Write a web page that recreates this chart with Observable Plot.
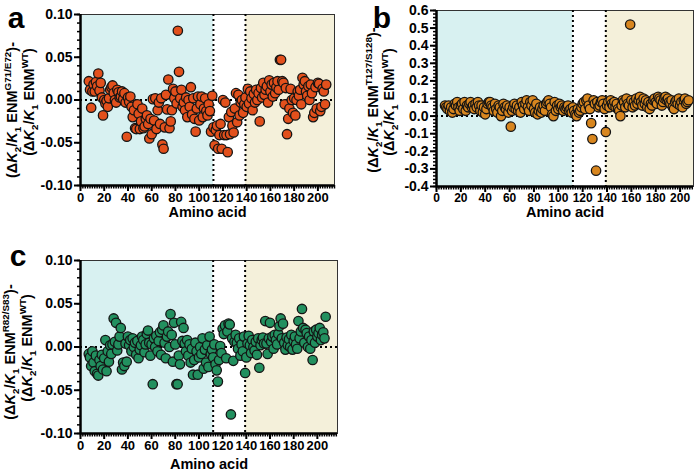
<!DOCTYPE html>
<html><head><meta charset="utf-8">
<script src="https://cdn.jsdelivr.net/npm/d3@7"></script>
<script src="https://cdn.jsdelivr.net/npm/@observablehq/plot@0.6"></script>
<style>
body{margin:0;background:#fff;}
#wrap{position:relative;width:700px;height:474px;overflow:hidden;background:#fff;}
#wrap > svg{position:absolute;overflow:visible;}
</style></head><body><div id="wrap"></div>
<script>
const FONT = "Liberation Sans, Arial, Helvetica, sans-serif";
const firstResidue = 7;

// Panel a: G71/E72 (residues 7..207)
const valuesA = [
  0.022, 0.012, -0.009, 0.010, 0.018, 0.010, 0.021, 0.016, 0.031, 0.011,
  0.020, 0.003, -0.018, 0.000, -0.004, -0.001, -0.008, 0.002, 0.012, 0.015,
  0.017, 0.008, 0.000, -0.003, 0.012, 0.009, 0.003, 0.004, 0.010, 0.001,
  0.008, -0.003, -0.043, 0.003, -0.002, 0.004, -0.008, -0.020, -0.012, -0.033,
  -0.034, -0.005, -0.016, -0.034, -0.025, -0.010, -0.033, -0.031, -0.022, -0.018,
  -0.028, -0.045, -0.022, -0.040, 0.001, -0.024, 0.002, -0.034, -0.012, -0.003,
  -0.028, 0.002, -0.052, -0.057, -0.032, 0.006, -0.011, 0.024, -0.033, -0.025,
  -0.012, 0.013, 0.002, 0.010, -0.004, 0.081, 0.033, 0.002, 0.012, -0.008,
  -0.003, -0.012, 0.003, -0.020, 0.000, -0.008, 0.015, -0.017, 0.002, -0.022,
  -0.037, -0.010, 0.004, -0.024, -0.005, 0.004, -0.020, -0.010, 0.002, -0.013,
  -0.018, -0.005, -0.013, -0.037, 0.005, -0.032, -0.053, -0.035, -0.030, -0.057,
  -0.041, -0.028, -0.057, 0.000, -0.041, -0.003, -0.041, -0.061, -0.020, -0.040,
  -0.014, -0.030, -0.038, -0.010, 0.008, -0.026, 0.006, -0.018, -0.003, 0.000,
  -0.015, -0.005, 0.003, -0.008, 0.013, -0.004, 0.010, 0.002, -0.012, 0.007,
  -0.003, 0.012, 0.000, 0.008, -0.025, 0.014, 0.003, 0.020, 0.006, 0.012,
  0.016, -0.003, 0.023, 0.010, 0.018, 0.004, 0.020, 0.008, 0.015, 0.022,
  0.012, 0.047, 0.047, 0.022, 0.020, -0.005, 0.014, -0.040, -0.022, -0.010,
  0.013, 0.000, -0.015, 0.002, -0.018, 0.000, 0.010, 0.005, 0.012, -0.005,
  0.026, 0.018, 0.022, 0.010, 0.005, 0.016, 0.000, 0.018, 0.008, -0.020,
  -0.015, 0.015, -0.010, 0.020, 0.019, -0.013, -0.008, 0.013, 0.010, -0.005,
  0.018
];

// Panel b: T127/S128
const valuesB = [
  0.06, 0.05, 0.04, 0.06, 0.03, 0.05, 0.02, 0.04, 0.07, 0.06,
  0.08, 0.05, 0.03, 0.06, 0.07, 0.04, 0.08, 0.03, 0.06, 0.05,
  0.07, 0.08, 0.05, 0.06, 0.04, 0.07, 0.05, 0.08, 0.06, 0.03,
  0.06, 0.02, 0.05, 0.01, 0.04, 0.07, 0.08, 0.08, 0.06, 0.05,
  0.03, 0.07, 0.04, 0.02, 0.06, 0.05, 0.00, 0.03, 0.07, 0.05,
  0.04, 0.06, 0.02, 0.05, -0.06, 0.03, 0.05, 0.07, 0.04, 0.06,
  0.03, 0.05, 0.02, 0.08, 0.06, 0.04, 0.07, 0.09, 0.05, 0.03,
  0.08, 0.06, 0.09, 0.04, 0.02, 0.07, 0.01, 0.03, 0.05, 0.02,
  0.04, 0.06, 0.03, 0.07, 0.08, 0.09, 0.07, 0.05, 0.01, 0.00,
  0.08, 0.03, 0.06, 0.04, 0.07, 0.05, 0.06, 0.03, 0.05, 0.04,
  0.05, 0.06, 0.03, 0.04, 0.02, 0.05, 0.03, 0.01, 0.00, 0.04,
  0.02, 0.03, 0.05, 0.07, 0.08, 0.04, 0.09, 0.10, 0.06, 0.04,
  -0.04, -0.13, 0.09, 0.07, -0.31, 0.08, 0.05, 0.06, 0.08, 0.09,
  0.07, 0.04, -0.09, 0.06, 0.08, 0.05, 0.09, 0.07, 0.06, 0.08,
  0.05, 0.07, 0.04, 0.03, 0.00, 0.06, 0.09, 0.08, 0.05, 0.10,
  0.07, 0.06, 0.52, 0.09, 0.05, 0.08, 0.06, 0.10, 0.07, 0.09,
  0.11, 0.08, 0.06, 0.10, 0.07, 0.09, 0.05, 0.08, 0.04, 0.07,
  0.06, 0.09, 0.10, 0.08, 0.07, 0.11, 0.10, 0.09, 0.06, 0.08,
  0.10, 0.11, 0.09, 0.10, 0.08, 0.07, 0.09, 0.05, 0.04, 0.08,
  0.09, 0.07, 0.10, 0.06, 0.08, 0.05, 0.09, 0.10, 0.07, 0.08,
  0.09
];

// Panel c: R82/S83
const valuesC = [
  -0.008, -0.012, -0.022, -0.005, -0.018, -0.028, -0.010, -0.031, -0.033, -0.015,
  -0.022, -0.009, -0.026, -0.013, 0.008, -0.028, -0.005, -0.017, 0.002, -0.008,
  0.003, 0.033, 0.006, 0.028, -0.004, 0.003, 0.012, 0.022, -0.026, -0.018,
  -0.022, 0.004, -0.017, 0.012, 0.002, 0.008, -0.005, 0.010, 0.000, 0.005,
  -0.009, 0.007, -0.013, -0.003, 0.002, 0.012, 0.008, -0.006, 0.003, 0.015,
  0.019, 0.005, -0.010, 0.003, -0.043, 0.010, 0.000, 0.013, -0.005, 0.007,
  0.017, -0.009, 0.020, 0.025, 0.005, -0.013, 0.012, 0.018, 0.000, 0.038,
  0.014, -0.017, 0.028, 0.003, -0.043, -0.043, -0.010, -0.020, 0.029, 0.007,
  0.022, 0.004, -0.005, 0.008, -0.010, 0.003, -0.018, -0.002, -0.032, -0.015,
  0.005, -0.005, -0.032, -0.012, 0.000, -0.008, 0.010, -0.025, -0.003, -0.018,
  0.002, -0.023, 0.012, -0.008, -0.003, -0.012, 0.003, -0.020, -0.027, -0.040,
  -0.015, 0.001, -0.007, 0.021, 0.015, 0.025, -0.013, 0.018, 0.027, 0.026,
  -0.078, 0.010, -0.016, 0.006, 0.014, 0.005, -0.002, 0.010, -0.010, 0.003,
  -0.005, 0.012, -0.030, -0.012, 0.004, 0.013, 0.002, -0.007, 0.008, 0.000,
  -0.004, 0.006, -0.009, 0.010, -0.024, 0.002, 0.008, 0.011, 0.004, 0.030,
  0.004, -0.008, 0.010, 0.028, 0.006, 0.012, -0.002, 0.014, 0.008, 0.003,
  0.015, 0.024, 0.033, 0.010, 0.027, 0.005, -0.003, 0.011, 0.002, 0.009,
  0.000, 0.014, -0.003, 0.007, 0.012, 0.003, -0.002, 0.030, 0.010, 0.018,
  0.044, 0.022, 0.005, 0.020, 0.016, 0.000, 0.012, -0.002, 0.008, -0.015,
  0.018, 0.005, 0.020, 0.012, 0.016, 0.022, 0.008, 0.014, 0.017, 0.010,
  0.035
];

const xMajorTicks = [0, 20, 40, 60, 80, 100, 120, 140, 160, 180, 200];
const yTicksAC = [-0.10, -0.05, 0.00, 0.05, 0.10];
const yTicksB = [-0.4, -0.3, -0.2, -0.1, 0.0, 0.1, 0.2, 0.3, 0.4, 0.5, 0.6];
const domainStarts = [112, 139];   // boundaries of shaded domains
const dividers = [112, 139];

const BLUE = "#d8f1f1", TAN = "#f4f0da";

function addLabel(svg, x, cy, size) {
  return d3.select(svg).append("text")
    .attr("transform", `translate(${x},${cy}) rotate(-90)`)
    .attr("text-anchor", "middle")
    .attr("font-family", FONT).attr("font-weight", "bold")
    .attr("font-size", size).attr("fill", "#000");
}
function labelLine(t, supText, tail, size) {
  const s = size * 0.68;
  const add = (txt, opts = {}) => {
    const ts = t.append("tspan").text(txt);
    if (opts.italic) ts.attr("font-style", "italic");
    if (opts.small) ts.attr("font-size", s);
    if (opts.dy) ts.attr("dy", opts.dy);
  };
  add("(Δ");
  add("K", {italic: true});
  add("2", {small: true, dy: size * 0.25});
  add("/", {dy: -size * 0.25});
  add("K", {italic: true});
  add("1", {small: true, dy: size * 0.25});
  add(" ENM", {dy: -size * 0.25});
  add(supText, {small: true, dy: -size * 0.4});
  add(tail, {dy: size * 0.4});
}

function panel(cfg) {
  const data = cfg.values.map((v, i) => ({res: firstResidue + i, v}));
  const [y0, y1] = cfg.yDomain;
  const xMinor = d3.range(0, cfg.xMax + 0.01, 2);
  const svg = Plot.plot({
    width: cfg.width, height: cfg.height,
    marginLeft: cfg.m[0], marginTop: cfg.m[1], marginRight: cfg.m[2], marginBottom: cfg.m[3],
    style: {fontFamily: FONT, background: "transparent", overflow: "visible", color: "#000"},
    x: {domain: [0, cfg.xMax]},
    y: {domain: cfg.yDomain},
    marks: [
      Plot.rect([[0, domainStarts[0]]], {x1: d => d[0], x2: d => d[1], y1: y0, y2: y1, fill: BLUE}),
      Plot.rect([[domainStarts[1], cfg.xMax]], {x1: d => d[0], x2: d => d[1], y1: y0, y2: y1, fill: TAN}),
      Plot.frame({stroke: "#333", strokeWidth: 1}),
      Plot.ruleY([0], {stroke: "#000", strokeWidth: 2, strokeDasharray: "2,3"}),
      Plot.ruleX(dividers, {stroke: "#000", strokeWidth: 2, strokeDasharray: "2,3"}),
      Plot.dot(data, {x: "res", y: "v", r: 4.7, fill: cfg.color, stroke: "#141414", strokeWidth: 1.3}),
      Plot.ruleX([0], {stroke: "#000", strokeWidth: 2.5}),
      Plot.ruleY([y0], {stroke: "#000", strokeWidth: 2.5}),
      Plot.axisY(cfg.yMinor, {tickSize: 3, strokeWidth: 1.5, tickFormat: () => "", label: null}),
      Plot.axisY(cfg.yTicks, {tickSize: 6, strokeWidth: 2, tickPadding: 2, tickFormat: cfg.fmt, fontSize: 14, fontWeight: "bold", label: null}),
      Plot.axisX(xMinor, {tickSize: 3.5, strokeWidth: 1.5, tickFormat: () => "", label: null}),
      Plot.axisX(xMajorTicks, {tickSize: 6, strokeWidth: 2, tickPadding: 1, fontSize: cfg.xFont, fontWeight: "bold", label: null}),
      Plot.text(["Amino acid"], {frameAnchor: "bottom", dy: cfg.labelDy, fontSize: 14.5, fontWeight: "bold", fill: "#000"})
    ]
  });
  svg.style.left = cfg.left + "px";
  svg.style.top = cfg.top + "px";
  const size = 14.5;
  labelLine(addLabel(svg, cfg.lab[0], cfg.lab[2], size), cfg.mut, ")-", size);
  labelLine(addLabel(svg, cfg.lab[1], cfg.lab[3], size), "WT", ")", size);
  d3.select(svg).append("text").attr("x", cfg.letter[0]).attr("y", cfg.letter[1])
    .attr("font-family", FONT).attr("font-weight", "bold").attr("font-size", 30).attr("fill", "#000")
    .text(cfg.letterText);
  document.getElementById("wrap").appendChild(svg);
}

const minorAC = d3.range(-10, 11).map(d => d / 100);
const minorB = d3.range(-20, 31).map(d => d / 50);
const fmt2 = d => d.toFixed(2);
const fmt1 = d => d.toFixed(1);

panel({values: valuesA, color: "#e2501c", xMax: 214, yDomain: [-0.1, 0.1], yTicks: yTicksAC, yMinor: minorAC, fmt: fmt2,
  width: 345, height: 240, m: [80, 14, 11, 55], left: 0, top: 0, labelDy: 31, xFont: 13,
  lab: [17, 34, 110, 102], mut: "G71/E72", letter: [16, 28], letterText: "a"});
panel({values: valuesB, color: "#d8861f", xMax: 211, yDomain: [-0.4, 0.6], yTicks: yTicksB, yMinor: minorB, fmt: fmt1,
  width: 350, height: 240, m: [86, 10, 7, 54], left: 350, top: 0, labelDy: 30, xFont: 12,
  lab: [28, 44, 100, 102], mut: "T127/S128", letter: [32, 28], letterText: "b"});
panel({values: valuesC, color: "#22905f", xMax: 217, yDomain: [-0.1, 0.1], yTicks: yTicksAC, yMinor: minorAC, fmt: fmt2,
  width: 345, height: 234, m: [80, 20, 8, 41], left: 0, top: 240, labelDy: 35, xFont: 13,
  lab: [15, 32, 112, 108], mut: "R82/S83", letter: [18, 26], letterText: "c"});
</script>
</body></html>
